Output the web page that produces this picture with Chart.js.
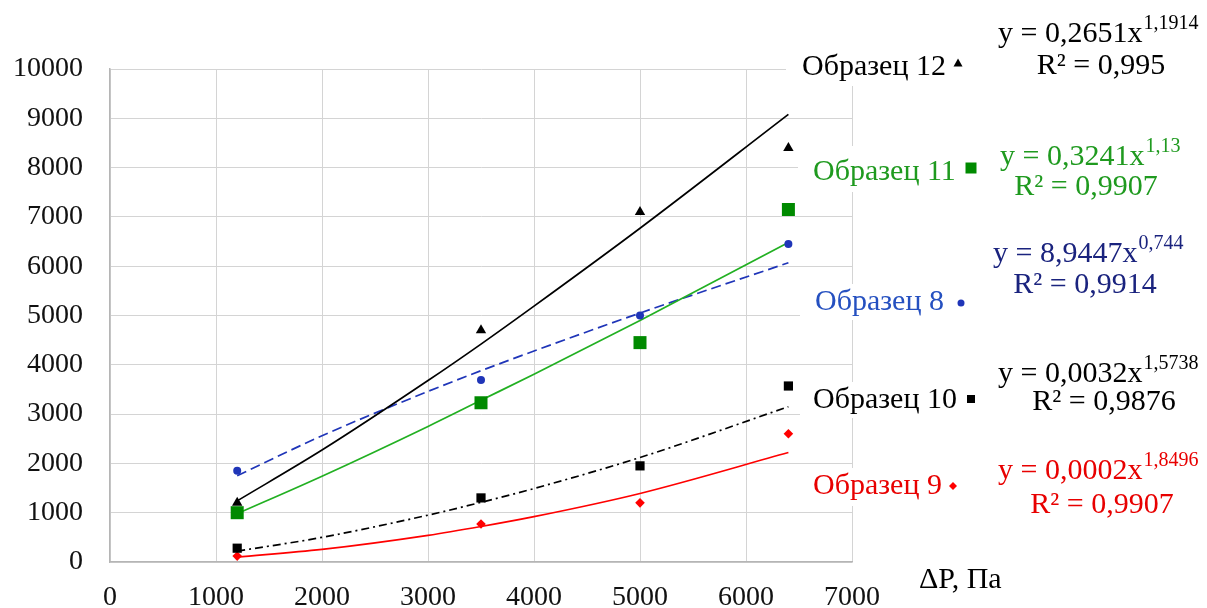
<!DOCTYPE html>
<html>
<head>
<meta charset="utf-8">
<script src="https://cdn.jsdelivr.net/npm/chart.js@4.4.0/dist/chart.umd.min.js"></script>
<style>
    html, body { margin: 0; padding: 0; background: #fff; }
    #wrap { width: 1207px; height: 608px; }
</style>
</head>
<body>
<div id="wrap"><canvas id="chart" width="1207" height="608"></canvas></div>
<script>
// --- DATA ---
const xTickValues = [0, 1000, 2000, 3000, 4000, 5000, 6000, 7000];
const yTickValues = [0, 1000, 2000, 3000, 4000, 5000, 6000, 7000, 8000, 9000, 10000];
const pressure = [1200, 3500, 5000, 6400];
const sample12 = [1200, 4700, 7100, 8400];
const sample11 = [1000, 3230, 4450, 7150];
const sample8 = [1850, 3690, 5000, 6450];
const sample10 = [280, 1300, 1950, 3570];
const sample9 = [120, 770, 1200, 2600];

// trend lines
const trendX = [1200, 2000, 3000, 3500, 4000, 5000, 6400];
const trend12 = [1240, 2270, 3680, 4420, 5190, 6770, 9080];
const trend11 = [980, 1740, 2750, 3280, 3810, 4900, 6480];
const trend8 = [1750, 2560, 3460, 3880, 4280, 5050, 6070];
const trend10 = [220, 500, 950, 1210, 1490, 2120, 3150];
const trend9 = [100, 255, 540, 720, 920, 1390, 2220];

const sampleNames = ['Образец 12', 'Образец 11', 'Образец 8', 'Образец 10', 'Образец 9'];
const equations = ['y = 0,2651x', 'y = 0,3241x', 'y = 8,9447x', 'y = 0,0032x', 'y = 0,0002x'];
const exponents = ['1,1914', '1,13', '0,744', '1,5738', '1,8496'];
const rSquared = ['R² = 0,995', 'R² = 0,9907', 'R² = 0,9914', 'R² = 0,9876', 'R² = 0,9907'];
const axisTitle = 'ΔP, Па';

// --- STYLE ---
const SERIF = '"Liberation Serif", "Times New Roman", serif';
const COLORS = {
    s12: '#000000', s11: '#008a00', s8: '#1f35b8', s10: '#000000', s9: '#ff0000',
    t11: '#1f9a1f', t8: '#2550c0', eq8: '#1a237e', t9: '#e80000'
};

const toPoints = (xs, ys) => xs.map((x, i) => ({ x, y: ys[i] }));

function markerSet(data, color, style, radius) {
    return {
        data: toPoints(pressure, data), showLine: false,
        pointStyle: style, pointRadius: radius, pointHoverRadius: radius,
        backgroundColor: color, borderColor: color, borderWidth: 0
    };
}

function trendSet(data, color, dash) {
    return {
        data: toPoints(trendX, data), showLine: true, pointRadius: 0,
        borderColor: color, borderWidth: 1.7, borderDash: dash || [],
        tension: 0.3, cubicInterpolationMode: 'monotone', fill: false
    };
}

// label blocks at the right of the plot
const blocks = [
    { i: 0, color: '#000', eqColor: '#000', mk: 'triangle', mkColor: '#000', mx: 958, my: 63, mr: 4.5, nx: 802, ny: 75, ex: 998, ey: 42, rx: 1101, ry: 74, box: [786, 42, 180, 44] },
    { i: 1, color: COLORS.t11, eqColor: COLORS.t11, mk: 'rect', mkColor: COLORS.s11, mx: 971, my: 168, mr: 5.5, nx: 813, ny: 180, ex: 1000, ey: 165, rx: 1086, ry: 195, box: [798, 146, 185, 46] },
    { i: 2, color: COLORS.t8, eqColor: COLORS.eq8, mk: 'circle', mkColor: COLORS.s8, mx: 961, my: 303, mr: 3.5, nx: 815, ny: 310, ex: 993, ey: 262, rx: 1085, ry: 293, box: [800, 284, 175, 36] },
    { i: 3, color: '#000', eqColor: '#000', mk: 'rect', mkColor: '#000', mx: 971, my: 399, mr: 4, nx: 813, ny: 408, ex: 998, ey: 382, rx: 1104, ry: 410, box: [800, 382, 185, 36] },
    { i: 4, color: COLORS.t9, eqColor: COLORS.t9, mk: 'diamond', mkColor: COLORS.s9, mx: 953, my: 486, mr: 4, nx: 813, ny: 494, ex: 998, ey: 479, rx: 1102, ry: 513, box: [792, 468, 175, 38] }
];

function drawMarker(ctx, kind, x, y, r, color) {
    ctx.fillStyle = color;
    ctx.beginPath();
    if (kind === 'triangle') {
        ctx.moveTo(x, y - r);
        ctx.lineTo(x + r, y + r * 0.8);
        ctx.lineTo(x - r, y + r * 0.8);
    } else if (kind === 'rect') {
        ctx.rect(x - r, y - r, 2 * r, 2 * r);
    } else if (kind === 'circle') {
        ctx.arc(x, y, r, 0, Math.PI * 2);
    } else {
        ctx.moveTo(x, y - r);
        ctx.lineTo(x + r, y);
        ctx.lineTo(x, y + r);
        ctx.lineTo(x - r, y);
    }
    ctx.closePath();
    ctx.fill();
}

const annotationPlugin = {
    id: 'annotations',
    beforeDatasetsDraw(chart) {
        const ctx = chart.ctx;
        ctx.save();
        ctx.fillStyle = '#fff';
        blocks.forEach(b => ctx.fillRect(b.box[0], b.box[1], b.box[2], b.box[3]));
        ctx.restore();
    },
    afterDraw(chart) {
        const ctx = chart.ctx;
        ctx.save();
        ctx.textBaseline = 'alphabetic';
        blocks.forEach(b => {
            ctx.font = `30px ${SERIF}`;
            ctx.fillStyle = b.color;
            ctx.textAlign = 'left';
            ctx.fillText(sampleNames[b.i], b.nx, b.ny);
            drawMarker(ctx, b.mk, b.mx, b.my, b.mr, b.mkColor);

            ctx.fillStyle = b.eqColor;
            ctx.font = `30px ${SERIF}`;
            ctx.fillText(equations[b.i], b.ex, b.ey);
            const w = ctx.measureText(equations[b.i]).width;
            ctx.font = `20px ${SERIF}`;
            ctx.fillText(exponents[b.i], b.ex + w + 1, b.ey - 13);

            ctx.font = `30px ${SERIF}`;
            ctx.textAlign = 'center';
            ctx.fillText(rSquared[b.i], b.rx, b.ry);
        });
        ctx.font = `30px ${SERIF}`;
        ctx.textAlign = 'left';
        ctx.fillStyle = '#000';
        ctx.fillText(axisTitle, 919, 588);
        ctx.restore();
    }
};

const plainNumber = v => String(v);

const ctx = document.getElementById('chart').getContext('2d');
new Chart(ctx, {
    type: 'scatter',
    data: {
        datasets: [
            markerSet(sample11, COLORS.s11, 'rect', 9.2),
            markerSet(sample12, COLORS.s12, 'triangle', 6),
            markerSet(sample8, COLORS.s8, 'circle', 4),
            markerSet(sample10, COLORS.s10, 'rect', 6.5),
            markerSet(sample9, COLORS.s9, 'rectRot', 4.8),
            trendSet(trend12, '#000000'),
            trendSet(trend11, '#22b022'),
            trendSet(trend8, '#1f35b8', [10, 5]),
            trendSet(trend10, '#000000', [8, 4, 2, 4]),
            trendSet(trend9, '#ff0000')
        ]
    },
    options: {
        responsive: false,
        animation: false,
        layout: { padding: { top: 69, right: 355, left: 0, bottom: 0 } },
        plugins: { legend: { display: false }, tooltip: { enabled: false } },
        scales: {
            x: {
                type: 'linear', min: 0, max: 7000,
                afterBuildTicks: s => { s.ticks = xTickValues.map(v => ({ value: v })); },
                afterFit: s => { s.height = 46; },
                ticks: { font: { family: SERIF, size: 28 }, color: '#111', padding: 19, maxRotation: 0, callback: plainNumber },
                grid: { color: '#d4d4d4', lineWidth: 1, drawTicks: false },
                border: { color: '#b5b5b5', width: 1.5 }
            },
            y: {
                type: 'linear', min: 0, max: 10000,
                afterBuildTicks: s => { s.ticks = yTickValues.map(v => ({ value: v })); },
                afterFit: s => { s.width = 110; },
                ticks: { font: { family: SERIF, size: 28 }, color: '#111', padding: 27, callback: plainNumber },
                grid: { color: '#d4d4d4', lineWidth: 1, drawTicks: false },
                border: { color: '#b5b5b5', width: 1.5 }
            }
        }
    },
    plugins: [annotationPlugin]
});
</script>
</body>
</html>
